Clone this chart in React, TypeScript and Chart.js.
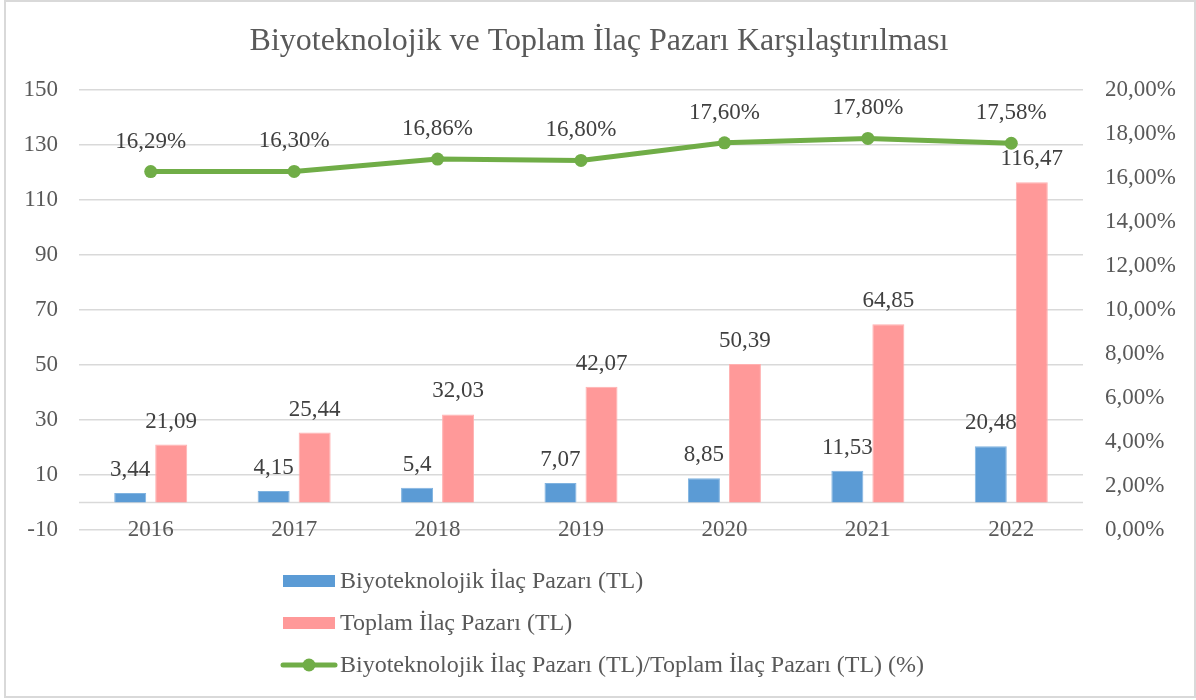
import React, { useEffect, useRef } from 'react';
import { Chart, registerables } from 'chart.js';

Chart.register(...registerables);

const chartTitle = 'Biyoteknolojik ve Toplam İlaç Pazarı Karşılaştırılması';
const categories = ['2016', '2017', '2018', '2019', '2020', '2021', '2022'];
const bioLabel = 'Biyoteknolojik İlaç Pazarı (TL)';
const totalLabel = 'Toplam İlaç Pazarı (TL)';
const ratioLabel = 'Biyoteknolojik İlaç Pazarı (TL)/Toplam İlaç Pazarı (TL) (%)';
const bioValues = [3.44, 4.15, 5.4, 7.07, 8.85, 11.53, 20.48];
const totalValues = [21.09, 25.44, 32.03, 42.07, 50.39, 64.85, 116.47];
const ratioValues = [16.29, 16.3, 16.86, 16.8, 17.6, 17.8, 17.58];
const leftMin = -10;
const leftMax = 150;
const leftStep = 20;
const rightMin = 0;
const rightMax = 20;
const rightStep = 2;

const SERIF = '"Liberation Serif", "Times New Roman", serif';
const BLUE = '#5b9bd5';
const PINK = '#ff9999';
const GREEN = '#70ad47';

const fmtNum = (v: number) => String(v).replace('.', ',');
const fmtPct = (v: number) => v.toFixed(2).replace('.', ',') + '%';

const decorPlugin = {
  id: 'decor',
  beforeDatasetsDraw(chart: any) {
    const ctx = chart.ctx;
    const y = chart.scales.y.getPixelForValue(0);
    ctx.save();
    ctx.strokeStyle = '#d9d9d9';
    ctx.lineWidth = 1.5;
    ctx.beginPath();
    ctx.moveTo(chart.chartArea.left, y);
    ctx.lineTo(chart.chartArea.right, y);
    ctx.stroke();
    ctx.restore();
  },
  afterDatasetsDraw(chart: any) {
    const ctx = chart.ctx;
    ctx.save();
    ctx.font = `23px ${SERIF}`;
    ctx.fillStyle = '#404040';
    ctx.textAlign = 'center';
    ctx.textBaseline = 'alphabetic';
    chart.data.datasets.forEach((ds: any, i: number) => {
      const meta = chart.getDatasetMeta(i);
      meta.data.forEach((el: any, j: number) => {
        const v = ds.data[j] as number;
        if (meta.type === 'line') {
          ctx.fillText(fmtPct(v), el.x, el.y - 24);
        } else {
          ctx.fillText(fmtNum(v), el.x, el.y - 17);
        }
      });
    });
    ctx.restore();
  },
  afterDraw(chart: any) {
    const ctx = chart.ctx;
    ctx.save();
    // title
    ctx.font = `32px ${SERIF}`;
    ctx.fillStyle = '#595959';
    ctx.textAlign = 'center';
    ctx.textBaseline = 'alphabetic';
    ctx.fillText(chartTitle, 599, 50);
    // legend
    ctx.font = `24px ${SERIF}`;
    ctx.textAlign = 'left';
    ctx.fillStyle = BLUE;
    ctx.fillRect(283, 575, 52, 12);
    ctx.fillStyle = PINK;
    ctx.fillRect(283, 617, 52, 12);
    ctx.strokeStyle = GREEN;
    ctx.lineWidth = 5;
    ctx.lineCap = 'round';
    ctx.beginPath();
    ctx.moveTo(283, 665);
    ctx.lineTo(335, 665);
    ctx.stroke();
    ctx.fillStyle = GREEN;
    ctx.beginPath();
    ctx.arc(309, 665, 6.5, 0, Math.PI * 2);
    ctx.fill();
    ctx.fillStyle = '#595959';
    ctx.fillText(bioLabel, 340, 588);
    ctx.fillText(totalLabel, 340, 630);
    ctx.fillText(ratioLabel, 340, 672);
    // border
    ctx.strokeStyle = '#d9d9d9';
    ctx.lineWidth = 2;
    ctx.lineCap = 'butt';
    ctx.strokeRect(5, 1, 1190, 696);
    ctx.restore();
  },
};

export default function App() {
  const ref = useRef<HTMLCanvasElement | null>(null);
  useEffect(() => {
    document.body.style.margin = '0';
    if (!ref.current) return;
    const tickFont = { family: SERIF, size: 23 };
    const chart = new Chart(ref.current, {
      type: 'bar',
      data: {
        labels: categories,
        datasets: [
          {
            type: 'line',
            label: ratioLabel,
            data: ratioValues,
            yAxisID: 'y1',
            borderColor: GREEN,
            backgroundColor: GREEN,
            borderWidth: 5,
            pointRadius: 6.5,
            pointBorderWidth: 0,
            pointBackgroundColor: GREEN,
            tension: 0,
            order: 0,
          } as any,
          {
            label: bioLabel,
            data: bioValues,
            yAxisID: 'y',
            backgroundColor: BLUE,
            borderColor: '#80b3e0',
            borderWidth: 1,
            categoryPercentage: 0.572,
            barPercentage: 0.78,
            order: 1,
          },
          {
            label: totalLabel,
            data: totalValues,
            yAxisID: 'y',
            backgroundColor: PINK,
            borderColor: '#ffb0b0',
            borderWidth: 1,
            categoryPercentage: 0.572,
            barPercentage: 0.78,
            order: 1,
          },
        ],
      },
      options: {
        animation: false,
        responsive: false,
        maintainAspectRatio: false,
        layout: { padding: { left: 0, right: 0, top: 90, bottom: 130 } },
        plugins: {
          legend: { display: false },
          tooltip: { enabled: false },
          title: { display: false },
        },
        scales: {
          x: {
            offset: true,
            grid: { display: false, drawTicks: false },
            border: { display: false },
            ticks: {
              font: tickFont,
              color: '#595959',
              mirror: true,
              padding: -14,
              maxRotation: 0,
              autoSkip: false,
            },
            afterFit: (s: any) => {
              s.height = 40;
              s.paddingLeft = 0;
              s.paddingRight = 0;
            },
          },
          y: {
            position: 'left',
            min: leftMin,
            max: leftMax,
            ticks: {
              stepSize: leftStep,
              font: tickFont,
              color: '#595959',
              padding: 21,
              callback: (v: any) => String(v),
            },
            grid: { color: '#d9d9d9', lineWidth: 1.5, drawTicks: false },
            border: { display: false },
            afterFit: (s: any) => {
              s.width = 79;
              s.paddingTop = 0;
              s.paddingBottom = 0;
            },
          },
          y1: {
            position: 'right',
            min: rightMin,
            max: rightMax,
            ticks: {
              stepSize: rightStep,
              font: tickFont,
              color: '#595959',
              padding: 22,
              callback: (v: any) => fmtPct(Number(v)),
            },
            grid: { display: false, drawTicks: false },
            border: { display: false },
            afterFit: (s: any) => {
              s.width = 113;
              s.paddingTop = 0;
              s.paddingBottom = 0;
            },
          },
        },
      },
      plugins: [decorPlugin],
    });
    return () => chart.destroy();
  }, []);
  return (
    <div style={{ width: 1196, height: 700 }}>
      <canvas ref={ref} width={1196} height={700} style={{ display: 'block', width: 1196, height: 700 }} />
    </div>
  );
}
